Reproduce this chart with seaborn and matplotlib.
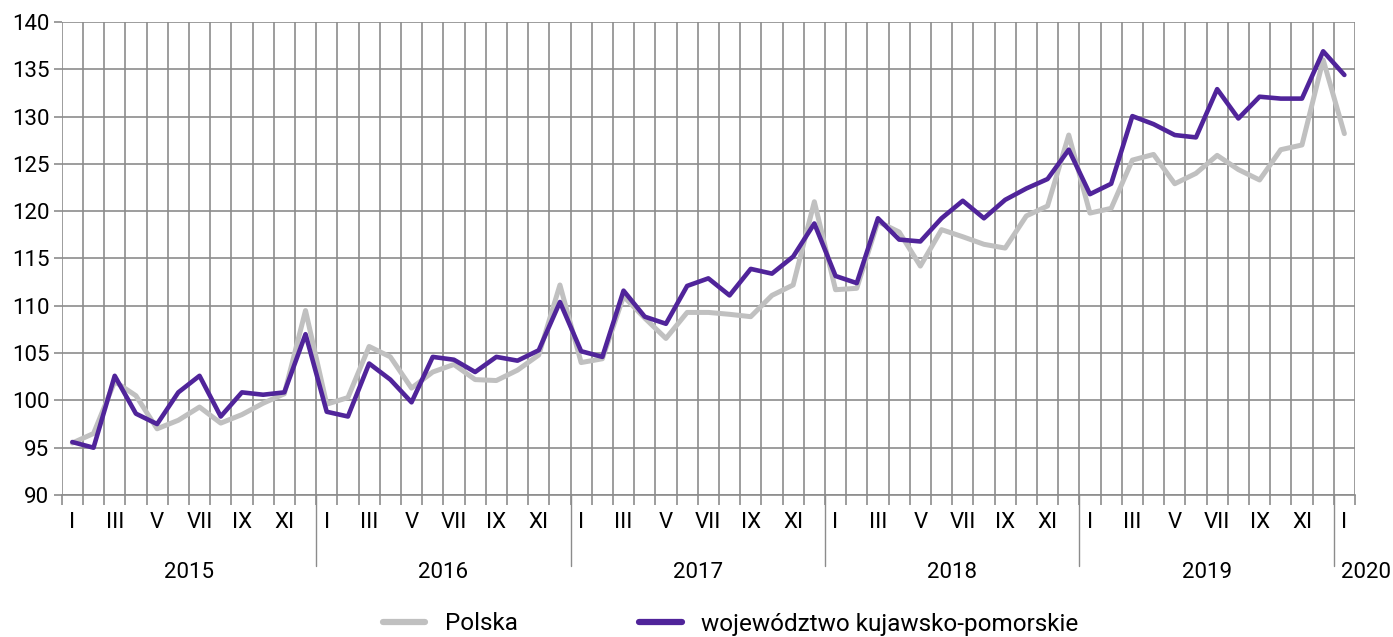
import matplotlib
matplotlib.use("Agg")
import matplotlib.pyplot as plt
import matplotlib.transforms as mtransforms
from matplotlib import font_manager
from matplotlib.lines import Line2D
import seaborn as sns
import pandas as pd
import numpy as np

years = ["2015", "2016", "2017", "2018", "2019", "2020"]
months = ["I", "II", "III", "IV", "V", "VI", "VII", "VIII", "IX", "X", "XI", "XII"]

polska = [95.5, 96.5, 102.0, 100.5, 97.0, 97.9, 99.3, 97.6, 98.5, 99.7, 100.7, 109.5,
          99.6, 100.3, 105.7, 104.6, 101.3, 103.0, 103.8, 102.2, 102.1, 103.2, 104.8, 112.2,
          104.0, 104.4, 111.0, 108.7, 106.55, 109.3, 109.3, 109.1, 108.85, 111.1, 112.2, 121.0,
          111.7, 111.85, 118.9, 117.8, 114.2, 118.05, 117.3, 116.5, 116.1, 119.5, 120.55, 128.05,
          119.8, 120.3, 125.4, 126.0, 122.9, 124.0, 125.9, 124.4, 123.3, 126.5, 127.0, 136.0,
          128.2]
kujawsko = [95.6, 95.0, 102.6, 98.6, 97.5, 100.85, 102.6, 98.3, 100.85, 100.6, 100.85, 107.0,
            98.8, 98.3, 103.9, 102.2, 99.8, 104.6, 104.3, 103.0, 104.6, 104.2, 105.3, 110.4,
            105.2, 104.6, 111.6, 108.85, 108.1, 112.1, 112.9, 111.1, 113.9, 113.4, 115.2, 118.7,
            113.15, 112.4, 119.25, 117.0, 116.8, 119.25, 121.1, 119.25, 121.2, 122.4, 123.4, 126.5,
            121.8, 122.9, 130.05, 129.2, 128.05, 127.8, 132.9, 129.8, 132.1, 131.9, 131.9, 136.9,
            134.4]
series_names = ["Polska", "województwo kujawsko-pomorskie"]
series_colors = ["#c0c0c0", "#50249a"]

n = len(polska)
idx = np.arange(n)
df = pd.DataFrame({
    "x": np.concatenate([idx, idx]),
    "value": polska + kujawsko,
    "series": [series_names[0]] * n + [series_names[1]] * n,
})

sns.set_theme(style="white")
fam = "Roboto"
plt.rcParams["font.family"] = [fam, "DejaVu Sans"]
plt.rcParams["text.color"] = "black"
fs = 16
fs_leg = 17.5

fig = plt.figure(figsize=(13.93, 6.37), dpi=100)
ax = fig.add_axes([0.0443, 0.2229, 0.9284, 0.7426])

sns.lineplot(data=df, x="x", y="value", hue="series", palette=series_colors,
             hue_order=series_names, linewidth=3.3, legend=False, ax=ax, zorder=3)
ax.lines[0].set_linewidth(3.6)

ax.set_xlim(-0.5, n - 0.5)
ax.set_ylim(90, 140)
ax.set_yticks(np.arange(90, 141, 5))
ax.set_yticklabels([str(v) for v in range(90, 141, 5)])
ax.tick_params(axis="y", labelsize=fs, length=6, width=1.2, color="#8c8c8c",
               labelcolor="black", pad=3, left=True)
ax.set_xticks(np.arange(-0.5, n, 1.0))
ax.set_xticklabels([])
ax.tick_params(axis="x", length=7, width=1.2, color="#8c8c8c", bottom=True)
ax.set_xlabel("")
ax.set_ylabel("")

ax.grid(True, axis="both", color="#8c8c8c", linewidth=1.2, zorder=0)
ax.set_axisbelow(True)
for s in ["top", "right", "left"]:
    ax.spines[s].set_visible(False)
ax.spines["bottom"].set_color("#8c8c8c")
ax.spines["bottom"].set_linewidth(1.2)

trans = mtransforms.blended_transform_factory(ax.transData, fig.transFigure)
# month labels (odd months)
for i in range(n):
    m = i % 12
    if m % 2 == 0:
        ax.text(i, 1 - 523 / 637, months[m], transform=trans, ha="center", va="center",
                fontsize=fs, color="black")
# year labels
for k, y in enumerate(years):
    xc = 12 * k + 5.5 if k < 5 else 61.0
    ax.text(xc, 1 - 573 / 637, y, transform=trans, ha="center", va="center",
            fontsize=fs, color="black")
# year separators
for b in [11.5, 23.5, 35.5, 47.5, 59.5]:
    ax.plot([b, b], [1 - 495 / 637, 1 - 566 / 637], transform=trans, color="#8c8c8c",
            linewidth=1.0, clip_on=False)

handles = [Line2D([], [], color=c, linewidth=4.5, solid_capstyle="round") for c in series_colors]
fig.legend(handles, series_names, loc="center", bbox_to_anchor=(0.5244, 1 - 624 / 637),
           ncol=2, frameon=False, fontsize=fs_leg, handlelength=1.75, columnspacing=5.0,
           handletextpad=0.8, labelcolor="black")

fig.savefig("out.png", dpi=100)
